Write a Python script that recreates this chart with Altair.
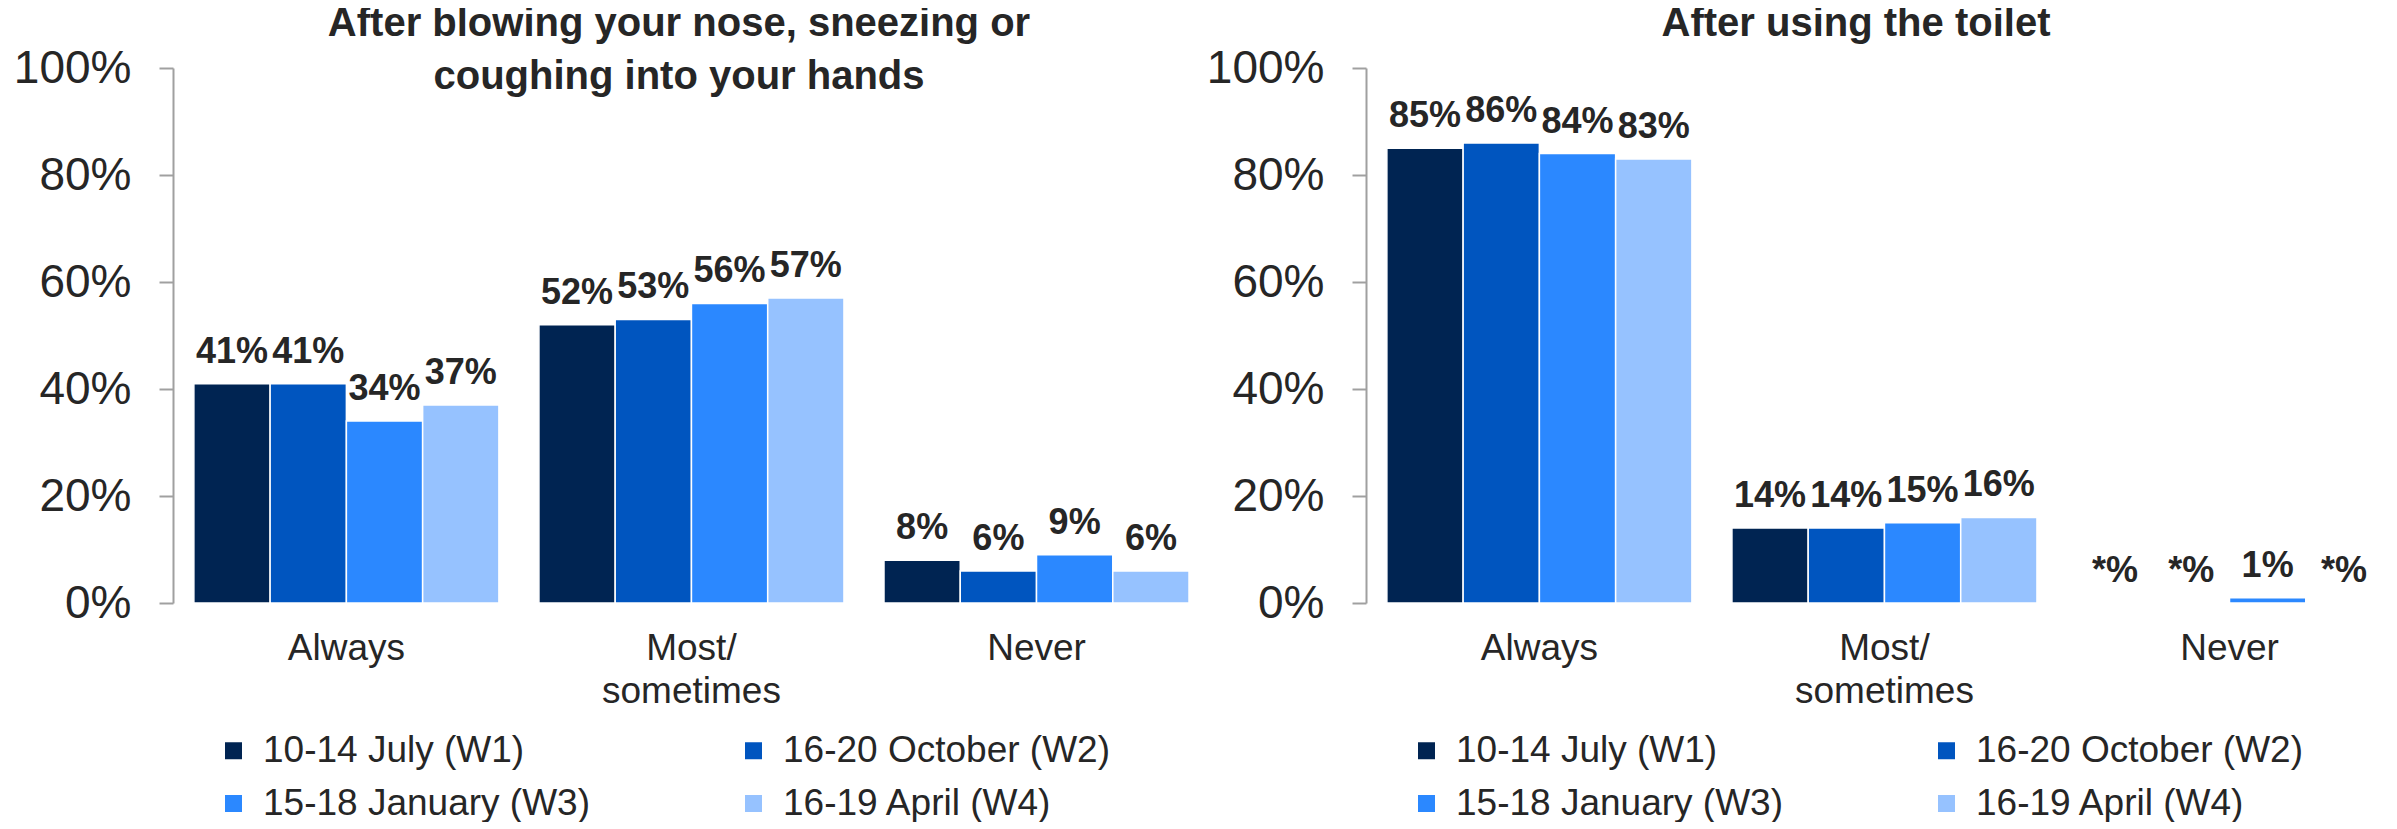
import altair as alt
import pandas as pd

FONT = "Liberation Sans"
TXT = "#262626"
GRAY = "#a0a0a0"

waves = ["10-14 July (W1)", "16-20 October (W2)", "15-18 January (W3)", "16-19 April (W4)"]
colors = ["#002452", "#0055BF", "#2B88FF", "#96C2FF"]
categories = ["Always", "Most/sometimes", "Never"]

nose_always = [41, 41, 34, 37]
nose_most = [52, 53, 56, 57]
nose_never = [8, 6, 9, 6]

toilet_always = [85, 86, 84, 83]
toilet_most = [14, 14, 15, 16]
toilet_never = [0, 0, 1, 0]
toilet_never_labels = ["*%", "*%", "1%", "*%"]

nose_title = ["After blowing your nose, sneezing or", "coughing into your hands"]
toilet_title = ["After using the toilet"]


def build(series, labels=None):
    rows = []
    for ci, cat in enumerate(categories):
        for wi, w in enumerate(waves):
            v = series[ci][wi]
            lab = f"{v}%"
            if labels is not None and labels[ci] is not None:
                lab = labels[ci][wi]
            rows.append({"category": cat, "wave": w, "value": v, "label": lab})
    return pd.DataFrame(rows)


nose_df = build([nose_always, nose_most, nose_never])
toilet_df = build([toilet_always, toilet_most, toilet_never], [None, None, toilet_never_labels])


def panel(df, title_lines, title_x):
    base = alt.Chart(df)
    x = alt.X(
        "category:N", sort=categories,
        scale=alt.Scale(paddingInner=0.116, paddingOuter=0.036, align=0.84),
        axis=alt.Axis(
            title=None, labelAngle=0, domain=False, ticks=False, tickSize=0,
            labelFontSize=37, labelFont=FONT, labelColor=TXT, labelPadding=27,
            labelLineHeight=43,
            labelExpr="datum.label == 'Most/sometimes' ? ['Most/', 'sometimes'] : datum.label",
        ),
    )
    xo = alt.XOffset("wave:N", sort=waves, scale=alt.Scale(paddingInner=0, paddingOuter=0))
    y = alt.Y(
        "value:Q", scale=alt.Scale(domain=[0, 100], nice=False),
        axis=alt.Axis(
            title=None, values=[0, 20, 40, 60, 80, 100], labelExpr="datum.value + '%'",
            grid=False, domainColor=GRAY, domainWidth=2, tickColor=GRAY, tickWidth=2,
            tickSize=14, labelFontSize=46, labelFont=FONT, labelColor=TXT, labelPadding=28,
        ),
    )
    color = alt.Color(
        "wave:N", sort=waves, scale=alt.Scale(domain=waves, range=colors),
        legend=alt.Legend(
            title=None, orient="none", legendX=42, legendY=664, columns=2,
            direction="horizontal",
            symbolType="square", symbolSize=289, symbolStrokeWidth=0,
            labelFontSize=37, labelFont=FONT, labelColor=TXT, labelOffset=11,
            columnPadding=145, rowPadding=15, padding=0, labelLimit=0,
        ),
    )
    bars = base.mark_bar(stroke="white", strokeWidth=1.5).encode(x=x, xOffset=xo, y=y, color=color)
    text = base.mark_text(
        font=FONT, fontWeight="bold", fontSize=36, color=TXT, baseline="alphabetic", dy=-21
    ).encode(x=x, xOffset=xo, y=y, text="label:N")
    title = alt.Chart(pd.DataFrame({"t": [0]})).mark_text(
        text=title_lines, font=FONT, fontWeight="bold", fontSize=40, color=TXT,
        align="center", baseline="alphabetic", lineHeight=53,
    ).encode(x=alt.value(title_x), y=alt.value(-32))
    return alt.layer(bars, text, title).properties(width=1020, height=535)


left = panel(nose_df, nose_title, 506)
right = panel(toilet_df, toilet_title, 490)

chart = (
    alt.hconcat(left, right, spacing=13)
    .resolve_scale(color="independent")
    .properties(padding={"left": 5, "top": -4, "right": 0, "bottom": 0})
    .configure_view(stroke=None)
)

chart.save("out.html", embed_options={"renderer": "svg", "actions": False})
